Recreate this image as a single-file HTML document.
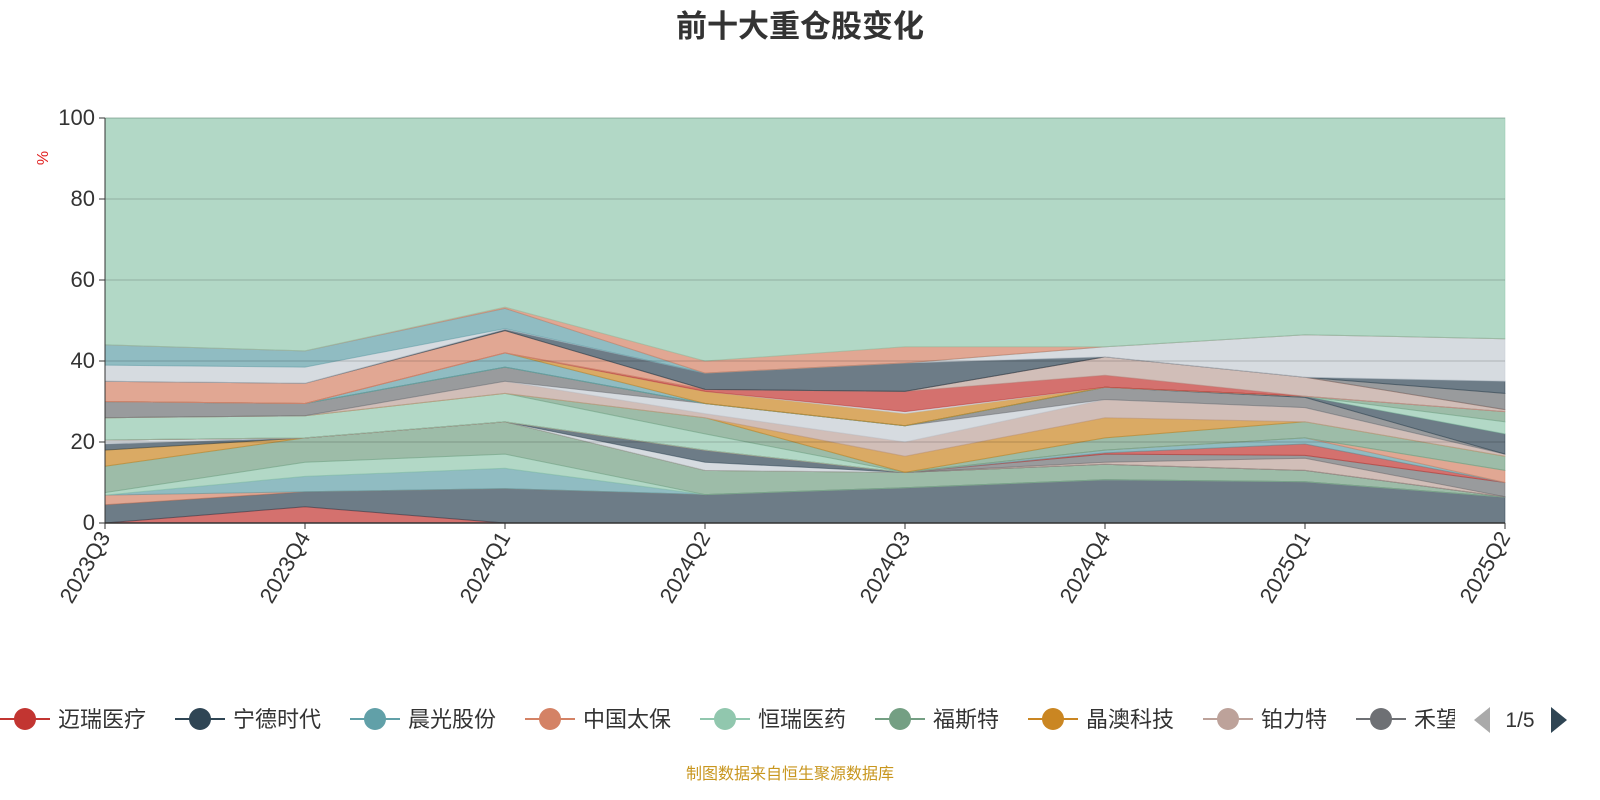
<!DOCTYPE html>
<html><head><meta charset="utf-8">
<style>
html,body{margin:0;padding:0;background:#fff;}
svg{display:block;font-family:"Liberation Sans","Noto Sans CJK SC",sans-serif;}
</style></head>
<body>
<svg id="chart" width="1600" height="800" viewBox="0 0 1600 800">
  <text x="800" y="37" text-anchor="middle" font-size="31" font-weight="bold" fill="#333">前十大重仓股变化</text>
  <g id="areas"></g>
  <g id="grid"></g>
  <g id="axes"></g>
  <text x="48" y="158" font-size="16" fill="#e02020" text-anchor="middle" transform="rotate(-90 48 158)">%</text>
  <g id="legend"></g>
  <text x="790" y="779" text-anchor="middle" font-size="16" fill="#c8961e">制图数据来自恒生聚源数据库</text>
</svg>
<script>
const categories = ["2023Q3","2023Q4","2024Q1","2024Q2","2024Q3","2024Q4","2025Q1","2025Q2"];
const yTicks = [0,20,40,60,80,100];
const legendNames = ["迈瑞医疗","宁德时代","晨光股份","中国太保","恒瑞医药","福斯特","晶澳科技","铂力特","禾望电气"];
const legendPage = "1/5";
const seriesColors = ["#c23531","#2f4554","#d48265","#61a0a8","#91c7ae","#749f83","#ca8622","#2f4554","#c4ccd3","#2f4554","#bda29a","#6e7074","#c23531","#61a0a8","#d48265","#91c7ae","#749f83","#ca8622","#bda29a","#c4ccd3","#6e7074","#2f4554","#91c7ae","#749f83","#61a0a8","#ca8622","#c4ccd3","#c23531","#bda29a","#d48265","#6e7074","#2f4554","#c4ccd3","#61a0a8","#d48265"];
const s01 = [0,4,0,0,0,0,0,0];
const s02 = [4.5,3.7,8.5,7,8.7,10.7,10.2,6.4];
const s03 = [2.4,0,0,0,0,0,0,0];
const s04 = [0,3.8,5,0,0,0,0,0];
const s05 = [0.6,3.5,3.5,0,0,0,0,0];
const s06 = [6.5,6,8,6,3.8,3.8,2.8,0.1];
const s07 = [4,0,0,0,0,0,0,0];
const s08 = [1.5,0,0,0,0,0,0,0];
const s09 = [1,0,0,2,0,0,0,0];
const s10 = [0,0,0,3,0,0,0,0];
const s11 = [0,0,0,0,0,0.5,3,0];
const s12 = [0,0,0,0,0,2,0.7,3.5];
const s13 = [0,0,0,0,0,0.3,2.8,0];
const s14 = [0,0,0,0,0,0.7,1.5,0];
const s15 = [0,0,0,0,0,0,0,3];
const s16 = [5.5,5.5,7,4,0,0,0,0];
const s17 = [0,0,0,4,0,3,4,3.5];
const s18 = [0,0,0,0,4,5,0,0];
const s19 = [0,0,3,1,3.5,4.5,3.5,0.5];
const s20 = [0,0,0,2.5,4,0,0,0];
const s21 = [4,3,3.5,0,0,3,2.5,0];
const s22 = [0,0,0,0,0,0,0.3,5];
const s23 = [0,0,0,0,0,0,0,3];
const s24 = [0,0,0,0,0,0,0,2.5];
const s25 = [0,0,3.5,0,0,0,0,0];
const s26 = [0,0,0,3,3,0,0,0];
const s27 = [0,0,0,0,0.5,0,0,0];
const s28 = [0,0,0,0.5,5,3,0,0];
const s29 = [0,0,0,0,0,4.5,4.7,0.5];
const s30 = [5,5,5.5,0,0,0,0,0];
const s31 = [0,0,0,0,0,0,0,4];
const s32 = [0,0,0.3,4,7,0,0,3];
const s33 = [4,4,0.2,0,0,2.5,10.5,10.5];
const s34 = [5,4,5,0,0,0,0,0];
const s35 = [0,0,0.3,3,4,0,0,0];
const seriesList = [s01,s02,s03,s04,s05,s06,s07,s08,s09,s10,s11,s12,s13,s14,s15,s16,s17,s18,s19,s20,s21,s22,s23,s24,s25,s26,s27,s28,s29,s30,s31,s32,s33,s34,s35];

const NS="http://www.w3.org/2000/svg";
const X0=105,X1=1505,Y0=523,Y1=118;
function xScale(i){return X0+(X1-X0)*i/(categories.length-1);}
function yScale(v){return Y0-(Y0-Y1)*v/100;}
function mk(tag,attrs,parent){const e=document.createElementNS(NS,tag);for(const k in attrs)e.setAttribute(k,attrs[k]);parent.appendChild(e);return e;}

const areas=document.getElementById('areas');
let cum=categories.map(()=>0);
function drawBand(vals,color,idx){
  const lower=cum.slice();
  const upper=cum.map((c,i)=>c+vals[i]);
  let d="";
  upper.forEach((v,i)=>{d+=(i?"L":"M")+xScale(i).toFixed(1)+","+yScale(v).toFixed(1);});
  for(let i=lower.length-1;i>=0;i--)d+="L"+xScale(i).toFixed(1)+","+yScale(lower[i]).toFixed(1);
  d+="Z";
  const p=mk('path',{d:d,fill:color,'fill-opacity':0.7,stroke:color,'stroke-opacity':0.5,'stroke-width':1},areas);
  
  
  cum=upper;
}
seriesList.forEach((s,i)=>drawBand(s,seriesColors[i%seriesColors.length],i+1));
const others=cum.map(c=>100-c);
drawBand(others,"#91c7ae","others");

const grid=document.getElementById('grid');
yTicks.forEach(t=>{
  if(t===0)return;
  const l=mk('line',{x1:X0,x2:X1,y1:yScale(t),y2:yScale(t),stroke:"#000",'stroke-opacity':0.12,'stroke-width':1.5},grid);
  
  
});

const axes=document.getElementById('axes');
mk('line',{x1:X0,x2:X0,y1:Y1,y2:Y0,stroke:"#333",'stroke-width':1},axes);
mk('line',{x1:X0,x2:X1,y1:Y0,y2:Y0,stroke:"#333",'stroke-width':1.5},axes);
yTicks.forEach(t=>{
  mk('line',{x1:X0-6,x2:X0,y1:yScale(t),y2:yScale(t),stroke:"#333"},axes);
  const tx=mk('text',{x:X0-10,y:yScale(t)+7,'text-anchor':'end','font-size':22,fill:'#333'},axes);
  tx.textContent=t;
  
  
});
categories.forEach((c,i)=>{
  const x=xScale(i);
  mk('line',{x1:x,x2:x,y1:Y0,y2:Y0+6,stroke:"#333"},axes);
  const tx=mk('text',{x:x+6,y:Y0+14,'text-anchor':'end','font-size':22,fill:'#333',transform:`rotate(-60 ${x+6} ${Y0+14})`},axes);
  tx.textContent=c;
  
  
});

const legend=document.getElementById('legend');
const legColors=["#c23531","#2f4554","#61a0a8","#d48265","#91c7ae","#749f83","#ca8622","#bda29a","#6e7074"];
const clip=mk('clipPath',{id:'legclip'},legend);
mk('rect',{x:0,y:690,width:1455,height:60},clip);
const lg=mk('g',{'clip-path':'url(#legclip)'},legend);
let lx=0;
legendNames.forEach((n,i)=>{
  const g=mk('g',{},lg);
  
  
  const col=legColors[i];
  mk('line',{x1:lx,x2:lx+50,y1:719,y2:719,stroke:col,'stroke-width':2},g);
  mk('circle',{cx:lx+25,cy:719,r:11,fill:col},g);
  const t=mk('text',{x:lx+58,y:727,'font-size':22,fill:'#333'},g);
  t.textContent=n;
  lx+=58+n.length*22+29;
});
const prev=mk('path',{d:"M1490,707 L1490,733 L1474,720 Z",fill:"#aaa"},legend);


const pg=mk('text',{x:1520,y:727,'text-anchor':'middle','font-size':21,fill:'#333'},legend);
pg.textContent=legendPage;


const next=mk('path',{d:"M1551,707 L1551,733 L1567,720 Z",fill:"#2f4554"},legend);


</script>
</body></html>
